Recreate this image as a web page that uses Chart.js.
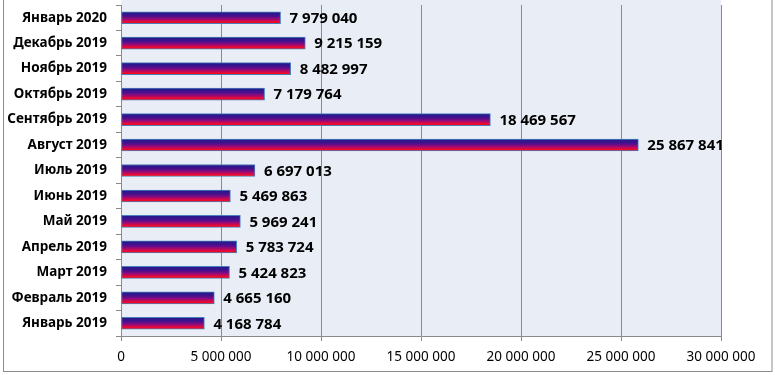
<!DOCTYPE html>
<html>
<head>
<meta charset="utf-8">
<script src="https://cdn.jsdelivr.net/npm/chart.js@4/dist/chart.umd.min.js"></script>
<style>
  html, body { margin: 0; padding: 0; background: #fff; }
  #wrap { position: relative; width: 775px; height: 375px; }
</style>
</head>
<body>
<div id="wrap"><canvas id="chart" width="775" height="375"></canvas></div>
<script>
// months, top to bottom as shown
const months = [
  'Январь 2020', 'Декабрь 2019', 'Ноябрь 2019', 'Октябрь 2019', 'Сентябрь 2019',
  'Август 2019', 'Июль 2019', 'Июнь 2019', 'Май 2019', 'Апрель 2019',
  'Март 2019', 'Февраль 2019', 'Январь 2019'
];
const amounts = [
  7979040, 9215159, 8482997, 7179764, 18469567,
  25867841, 6697013, 5469863, 5969241, 5783724,
  5424823, 4665160, 4168784
];
const xMax = 30000000;
const xStep = 5000000;

const FONT = "'Noto Sans', 'Open Sans', sans-serif";
const BAR_H = 12;

// 1 234 567 style
const fmt = v => String(Math.round(v)).replace(/\B(?=(\d{3})+(?!\d))/g, ' ');

// bar fill: dark blue on top, purple, red at the bottom
const barFill = (context) => {
  const chart = context.chart;
  const yScale = chart.scales.y;
  if (!chart.chartArea || !yScale) return '#7a1a9e';
  const yc = yScale.getPixelForValue(context.dataIndex);
  const g = chart.ctx.createLinearGradient(0, yc - BAR_H / 2, 0, yc + BAR_H / 2);
  g.addColorStop(0, '#1e1a8a');
  g.addColorStop(0.35, '#46108e');
  g.addColorStop(0.6, '#940a7a');
  g.addColorStop(0.85, '#ec0a34');
  g.addColorStop(1, '#ff0000');
  return g;
};

// plot background + outer frame
const frame = {
  id: 'frame',
  beforeDraw(chart) {
    const { ctx, chartArea } = chart;
    ctx.save();
    ctx.fillStyle = '#e9edf6';
    ctx.fillRect(chartArea.left, 0, chartArea.right - chartArea.left, chartArea.bottom);
    ctx.restore();
  },
  afterDraw(chart) {
    const { ctx } = chart;
    ctx.save();
    ctx.strokeStyle = '#8c8c8c';
    ctx.lineWidth = 1;
    ctx.strokeRect(3.5, -2, 768.5, 373.5);
    ctx.restore();
  }
};

// value labels at the end of each bar
const valueLabels = {
  id: 'valueLabels',
  afterDatasetsDraw(chart) {
    const { ctx } = chart;
    const meta = chart.getDatasetMeta(0);
    ctx.save();
    ctx.font = 'bold 15px ' + FONT;
    ctx.fillStyle = '#000';
    ctx.textAlign = 'left';
    ctx.textBaseline = 'middle';
    meta.data.forEach((bar, i) => {
      ctx.fillText(fmt(amounts[i]), bar.x + 9, bar.y + 1);
    });
    ctx.restore();
  }
};

new Chart(document.getElementById('chart'), {
  type: 'bar',
  data: {
    labels: months,
    datasets: [{
      data: amounts,
      backgroundColor: barFill,
      borderColor: '#4a7ebb',
      borderWidth: 1,
      borderSkipped: false,
      barThickness: BAR_H
    }]
  },
  options: {
    indexAxis: 'y',
    responsive: false,
    animation: false,
    layout: { padding: { left: 0, right: 54, top: 5, bottom: 0 } },
    plugins: {
      legend: { display: false },
      tooltip: { enabled: false }
    },
    scales: {
      x: {
        min: 0,
        max: xMax,
        afterFit: (scale) => { scale.height = 39; },
        ticks: {
          stepSize: xStep,
          padding: 8,
          color: '#000',
          font: { family: FONT, size: 13.5 },
          callback: (v) => fmt(v)
        },
        grid: { color: '#8a8a8a', lineWidth: 1, tickLength: 5 },
        border: { color: '#8a8a8a' }
      },
      y: {
        afterFit: (scale) => {
          scale.width = 121;
          scale.paddingTop = 0;
          scale.paddingBottom = 0;
        },
        ticks: {
          padding: 9,
          color: '#000',
          font: { family: FONT, size: 13.5, weight: 'bold' }
        },
        grid: { drawOnChartArea: false, color: '#8a8a8a', tickLength: 5 },
        border: { color: '#8a8a8a' }
      }
    }
  },
  plugins: [frame, valueLabels]
});
</script>
</body>
</html>
